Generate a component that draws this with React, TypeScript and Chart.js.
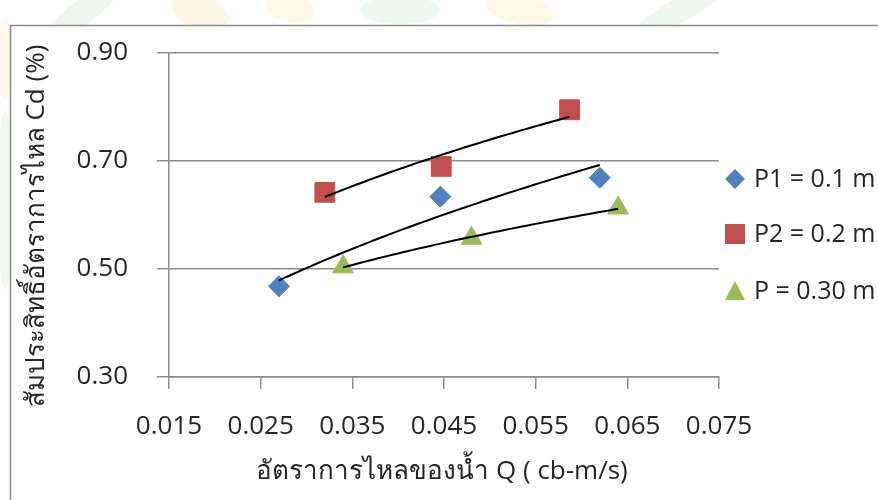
import React, { useEffect, useRef } from "react";
import { Chart, registerables } from "chart.js";

Chart.register(...registerables);

const seriesNames = ["P1 = 0.1 m", "P2 = 0.2 m", "P = 0.30 m"];
const p1Q = [0.027, 0.0446, 0.062];
const p1Cd = [0.468, 0.634, 0.669];
const p2Q = [0.032, 0.0447, 0.0587];
const p2Cd = [0.642, 0.69, 0.795];
const p3Q = [0.034, 0.048, 0.064];
const p3Cd = [0.504, 0.557, 0.613];
const xTicks = [0.015, 0.025, 0.035, 0.045, 0.055, 0.065, 0.075];
const yTicks = [0.3, 0.5, 0.7, 0.9];
const xTitle = "อัตราการไหลของน้ำ Q ( cb-m/s)";
const yTitle = "สัมประสิทธิ์อัตราการไหล Cd (%)";

const colors = ["#4F81BD", "#C0504D", "#9BBB59"];
const styles = ["rectRot", "rect", "triangle"];
const radii = [10.5, 14, 12];
const FONT = "'Open Sans', 'Noto Sans', sans-serif";
const TEXT = "#262626";
const GRID = "#8c8c8c";

function powerFit(xs: number[], ys: number[]) {
  const lx = xs.map(Math.log);
  const ly = ys.map(Math.log);
  const n = xs.length;
  const mx = lx.reduce((a, b) => a + b, 0) / n;
  const my = ly.reduce((a, b) => a + b, 0) / n;
  let sxy = 0;
  let sxx = 0;
  for (let i = 0; i < n; i++) {
    sxy += (lx[i] - mx) * (ly[i] - my);
    sxx += (lx[i] - mx) * (lx[i] - mx);
  }
  const b = sxy / sxx;
  const a = Math.exp(my - b * mx);
  return (x: number) => a * Math.pow(x, b);
}

const backgroundPlugin = {
  id: "bgframe",
  beforeDraw(chart: any) {
    const ctx = chart.ctx;
    const W = chart.width;
    const H = chart.height;
    ctx.save();
    ctx.fillStyle = "#ffffff";
    ctx.fillRect(0, 0, W, H);
    // faint watermark
    const blobs = [
      { x: 85, y: 10, rx: 40, ry: 12, r: -0.6, c: "rgba(160,200,160,0.16)" },
      { x: 200, y: 12, rx: 30, ry: 16, r: 0.3, c: "rgba(240,215,120,0.18)" },
      { x: 290, y: 8, rx: 25, ry: 14, r: 0.2, c: "rgba(240,215,120,0.15)" },
      { x: 400, y: 10, rx: 40, ry: 14, r: 0, c: "rgba(170,205,170,0.16)" },
      { x: 520, y: 10, rx: 35, ry: 14, r: 0.2, c: "rgba(240,215,120,0.16)" },
      { x: 680, y: 10, rx: 55, ry: 12, r: -0.5, c: "rgba(170,205,170,0.18)" },
      { x: 5, y: 200, rx: 8, ry: 90, r: 0, c: "rgba(170,205,170,0.14)" },
      { x: 5, y: 60, rx: 8, ry: 40, r: 0, c: "rgba(240,215,120,0.16)" },
    ];
    for (const b of blobs) {
      ctx.beginPath();
      ctx.fillStyle = b.c;
      ctx.ellipse(b.x, b.y, b.rx, b.ry, b.r, 0, Math.PI * 2);
      ctx.fill();
    }
    ctx.fillStyle = "#ffffff";
    ctx.fillRect(10, 25, W, H);
    ctx.strokeStyle = "#8a8a8a";
    ctx.lineWidth = 1.5;
    ctx.beginPath();
    ctx.moveTo(10.5, H + 5);
    ctx.lineTo(10.5, 25.5);
    ctx.lineTo(W + 5, 25.5);
    ctx.stroke();
    ctx.restore();
  },
};

const trendPlugin = {
  id: "trend",
  afterDatasetsDraw(chart: any) {
    const ctx = chart.ctx;
    const xs = chart.scales.x;
    const ys = chart.scales.y;
    ctx.save();
    ctx.strokeStyle = "#000000";
    ctx.lineWidth = 2;
    chart.data.datasets.forEach((ds: any) => {
      const qx = ds.data.map((p: any) => p.x);
      const qy = ds.data.map((p: any) => p.y);
      const f = powerFit(qx, qy);
      const lo = Math.min(...qx);
      const hi = Math.max(...qx);
      ctx.beginPath();
      const N = 60;
      for (let i = 0; i <= N; i++) {
        const x = lo + ((hi - lo) * i) / N;
        const px = xs.getPixelForValue(x);
        const py = ys.getPixelForValue(f(x));
        if (i === 0) ctx.moveTo(px, py);
        else ctx.lineTo(px, py);
      }
      ctx.stroke();
    });
    ctx.restore();
  },
};

function drawMarker(ctx: CanvasRenderingContext2D, style: string, x: number, y: number, color: string) {
  ctx.fillStyle = color;
  ctx.beginPath();
  if (style === "rectRot") {
    ctx.moveTo(x, y - 10);
    ctx.lineTo(x + 10, y);
    ctx.lineTo(x, y + 10);
    ctx.lineTo(x - 10, y);
  } else if (style === "rect") {
    ctx.rect(x - 10, y - 10, 20, 20);
  } else {
    ctx.moveTo(x, y - 10);
    ctx.lineTo(x + 10, y + 9);
    ctx.lineTo(x - 10, y + 9);
  }
  ctx.closePath();
  ctx.fill();
}

const labelsPlugin = {
  id: "labels",
  afterDraw(chart: any) {
    const ctx = chart.ctx;
    const area = chart.chartArea;
    ctx.save();
    ctx.fillStyle = TEXT;
    ctx.font = `26px ${FONT}`;
    ctx.textBaseline = "middle";
    // x title
    ctx.textAlign = "center";
    ctx.fillText(xTitle, (area.left + area.right) / 2 - 2, 472);
    // y title
    ctx.save();
    ctx.translate(37, (area.top + area.bottom) / 2 + 11);
    ctx.rotate(-Math.PI / 2);
    ctx.fillText(yTitle, 0, 0);
    ctx.restore();
    // legend
    const ly = [179, 234, 291];
    ctx.textAlign = "left";
    ctx.font = `25px ${FONT}`;
    chart.data.datasets.forEach((ds: any, i: number) => {
      drawMarker(ctx, styles[i], 735, ly[i], colors[i]);
      ctx.fillStyle = TEXT;
      ctx.fillText(ds.label, 754, ly[i] + 1);
    });
    ctx.restore();
  },
};

export default function App() {
  const ref = useRef<HTMLCanvasElement>(null);
  useEffect(() => {
    if (!ref.current) return;
    const qs = [p1Q, p2Q, p3Q];
    const cds = [p1Cd, p2Cd, p3Cd];
    const chart = new Chart(ref.current, {
      type: "scatter",
      data: {
        datasets: seriesNames.map((name, i) => ({
          label: name,
          data: qs[i].map((q, j) => ({ x: q, y: cds[i][j] })),
          backgroundColor: colors[i],
          borderColor: colors[i],
          borderWidth: 1,
          pointStyle: styles[i] as any,
          pointRadius: radii[i],
          pointHoverRadius: radii[i],
        })),
      },
      options: {
        responsive: false,
        animation: false,
        events: [],
        layout: { padding: { left: 0, right: 159, top: 53, bottom: 0 } },
        plugins: {
          legend: { display: false },
          tooltip: { enabled: false },
        },
        scales: {
          x: {
            type: "linear",
            min: 0.015,
            max: 0.075,
            afterBuildTicks: (s: any) => {
              s.ticks = xTicks.map((v) => ({ value: v }));
            },
            afterFit: (s: any) => {
              s.height = 123;
            },
            ticks: {
              callback: (v: any) => Number(v).toFixed(3),
              color: TEXT,
              font: { family: FONT, size: 26 },
              padding: 22,
              maxRotation: 0,
              autoSkip: false,
            },
            grid: { display: true, drawOnChartArea: false, drawTicks: true, tickLength: 12, color: GRID, lineWidth: 1.5 },
            border: { display: true, color: GRID, width: 1.5 },
          },
          y: {
            type: "linear",
            min: 0.3,
            max: 0.9,
            afterBuildTicks: (s: any) => {
              s.ticks = yTicks.map((v) => ({ value: v }));
            },
            afterFit: (s: any) => {
              s.width = 169;
            },
            ticks: {
              callback: (v: any) => Number(v).toFixed(2),
              color: TEXT,
              font: { family: FONT, size: 26 },
              padding: 29,
              autoSkip: false,
            },
            grid: { display: true, drawOnChartArea: true, drawTicks: true, tickLength: 12, color: GRID, lineWidth: 1.5 },
            border: { display: true, color: GRID, width: 1.5 },
          },
        },
      },
      plugins: [backgroundPlugin, trendPlugin, labelsPlugin],
    });
    return () => chart.destroy();
  }, []);
  return (
    <div style={{ position: "fixed", left: 0, top: 0, width: 878, height: 500, background: "#fff" }}>
      <canvas ref={ref} width={878} height={500} style={{ display: "block", width: 878, height: 500 }} />
    </div>
  );
}
